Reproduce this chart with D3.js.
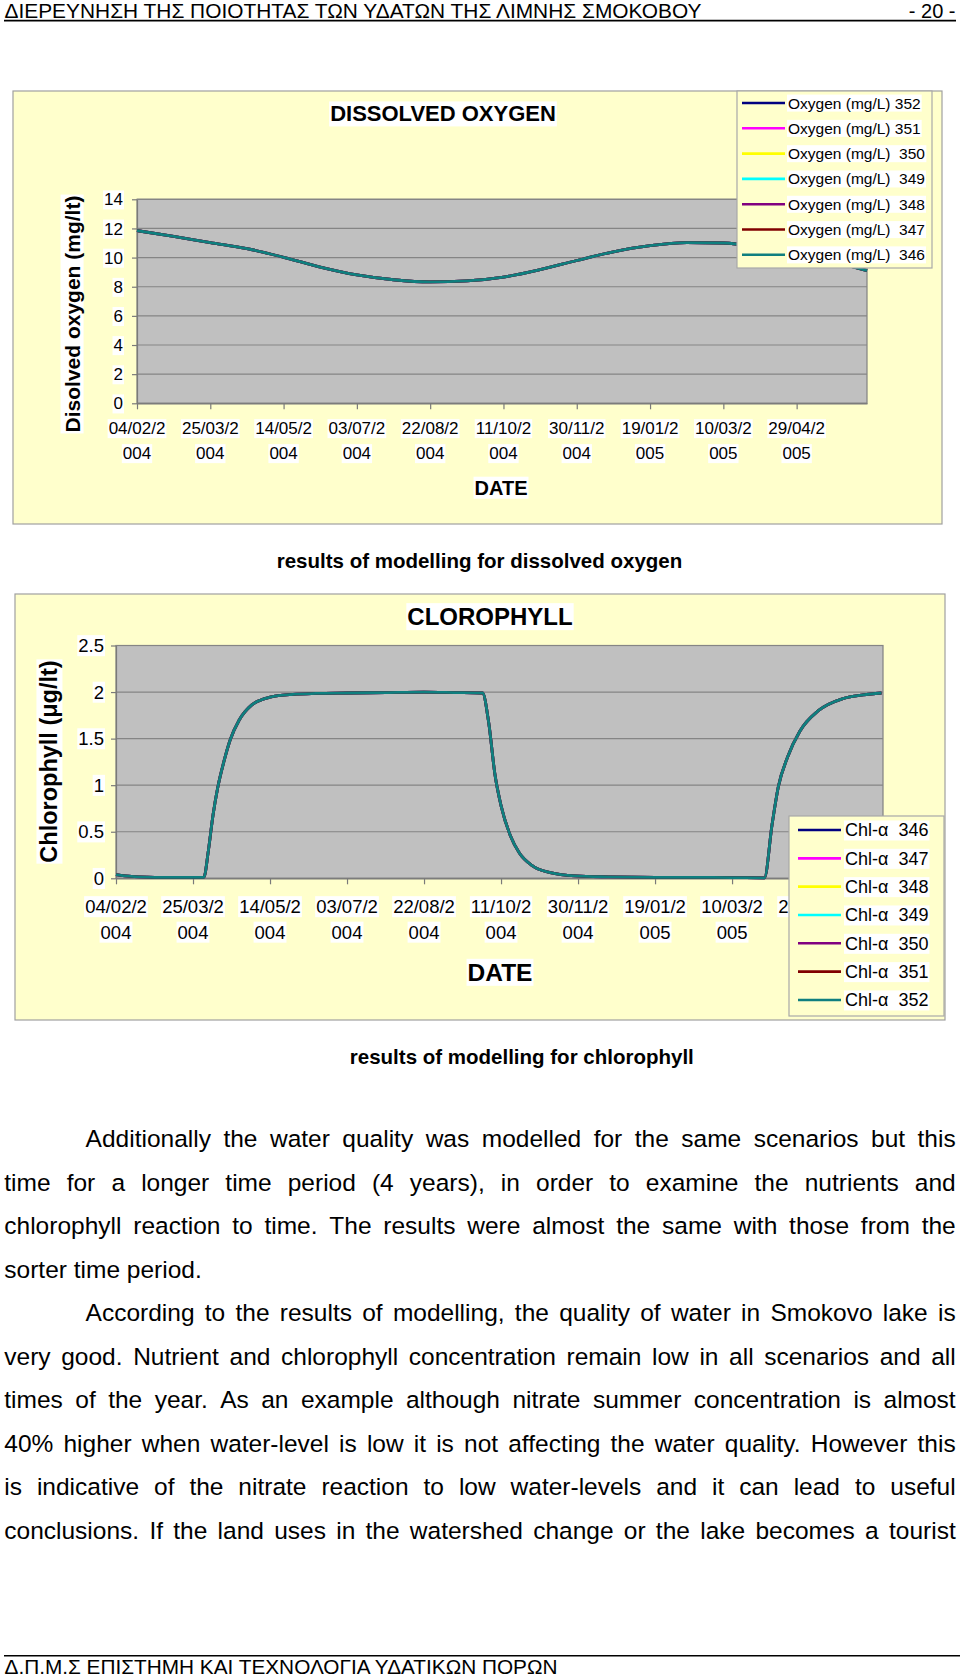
<!DOCTYPE html>
<html><head><meta charset="utf-8">
<script src="https://cdn.jsdelivr.net/npm/d3@7"></script>
<style>
body{margin:0;background:#fff}
svg{display:block}
text{font-family:"Liberation Sans",Arial,Helvetica,sans-serif;white-space:pre}
</style>
</head><body>
<svg id="page" width="960" height="1678"></svg>
<script>
// ---------------- DATA ----------------
const tickDays = [0, 50, 100, 150, 200, 250, 300, 350, 400, 450];
const tickLabels = ["04/02/2004","25/03/2004","14/05/2004","03/07/2004","22/08/2004",
                    "11/10/2004","30/11/2004","19/01/2005","10/03/2005","29/04/2005"];
const lastDay = 498;

const oxygenDays   = [0, 25, 50, 75, 100, 125, 150, 175, 200, 225, 250, 275, 300, 325, 350, 375, 400, 425, 450, 475, 498];
const oxygenValues = [11.85, 11.45, 11.03, 10.62, 10.02, 9.35, 8.81, 8.48, 8.33, 8.40, 8.66, 9.17, 9.80, 10.40, 10.82, 11.03, 11.00, 10.70, 10.25, 9.70, 9.10];
const oxygenSeries = ["Oxygen (mg/L) 352","Oxygen (mg/L) 351","Oxygen (mg/L)  350","Oxygen (mg/L)  349",
                      "Oxygen (mg/L)  348","Oxygen (mg/L)  347","Oxygen (mg/L)  346"];
const oxygenTicks = [0, 2, 4, 6, 8, 10, 12, 14];

const chlDays   = [0, 10, 20, 30, 45, 57, 60, 63, 66, 70, 74, 80, 88, 100, 115, 130, 150, 175, 200, 220, 238,
                   242, 246, 250, 256, 262, 270, 282, 298, 320, 350, 380, 400, 421, 426, 430, 436, 444, 456, 472, 485, 497];
const chlValues = [0.04, 0.02, 0.012, 0.01, 0.01, 0.01, 0.30, 0.68, 0.97, 1.25, 1.48, 1.70, 1.86, 1.945, 1.975, 1.985, 1.99, 1.995, 2.0, 1.995, 1.99,
                   1.67, 1.12, 0.78, 0.46, 0.27, 0.14, 0.06, 0.025, 0.015, 0.01, 0.01, 0.008, 0.005, 0.58, 0.98, 1.30, 1.58, 1.80, 1.93, 1.97, 1.99];
const chlSeries = ["Chl-\u03b1  346","Chl-\u03b1  347","Chl-\u03b1  348","Chl-\u03b1  349","Chl-\u03b1  350","Chl-\u03b1  351","Chl-\u03b1  352"];
const chlTicks = [0, 0.5, 1, 1.5, 2, 2.5];

const headerText = "\u0394\u0399\u0395\u03a1\u0395\u03a5\u039d\u0397\u03a3\u0397 \u03a4\u0397\u03a3 \u03a0\u039f\u0399\u039f\u03a4\u0397\u03a4\u0391\u03a3 \u03a4\u03a9\u039d \u03a5\u0394\u0391\u03a4\u03a9\u039d \u03a4\u0397\u03a3 \u039b\u0399\u039c\u039d\u0397\u03a3 \u03a3\u039c\u039f\u039a\u039f\u0392\u039f\u03a5";
const footerText = "\u0394.\u03a0.\u039c.\u03a3 \u0395\u03a0\u0399\u03a3\u03a4\u0397\u039c\u0397 \u039a\u0391\u0399 \u03a4\u0395\u03a7\u039d\u039f\u039b\u039f\u0393\u0399\u0391 \u03a5\u0394\u0391\u03a4\u0399\u039a\u03a9\u039d \u03a0\u039f\u03a1\u03a9\u039d";
const bodyLines = [
  "Additionally the water quality was modelled for the same scenarios but this",
  "time for a longer time period (4 years), in order to examine the nutrients and",
  "chlorophyll reaction to time. The results were almost the same with those from the",
  "sorter time period.",
  "According to the results of modelling, the quality of water in Smokovo lake is",
  "very good. Nutrient and chlorophyll concentration remain low in all scenarios and all",
  "times of the year. As an example although nitrate summer concentration is almost",
  "40% higher when water-level is low it is not affecting the water quality. However this",
  "is indicative of the nitrate reaction to low water-levels and it can lead to useful",
  "conclusions. If the land uses in the watershed change or the lake becomes a tourist"
];
const bodyIndent = [true,false,false,false,true,false,false,false,false,false];
const bodyJustify = [true,true,true,false,true,true,true,true,true,true];

// ---------------- DRAWING ----------------
const seriesColors = ["#000080","#ff00ff","#ffff00","#00ffff","#800080","#800000","#0f7f7f"];
const svg = d3.select("#page");

function label(g, x, y, str, o) {
  o = o || {};
  const t = g.append("text")
    .attr("x", x).attr("y", y)
    .attr("dy", "0.36em")
    .attr("text-anchor", o.anchor || "middle")
    .attr("font-size", o.size || 16)
    .attr("font-weight", o.bold ? "bold" : "normal")
    .attr("fill", "#000")
    .text(str);
  if (o.rotate) t.attr("transform", `rotate(${o.rotate},${x},${y})`);
  if (o.bg !== false) {
    const bb = t.node().getBBox();
    const r = g.insert("rect", () => t.node())
      .attr("x", bb.x - 1).attr("y", bb.y).attr("width", bb.width + 2).attr("height", bb.height)
      .attr("fill", "#fff");
    if (o.rotate) r.attr("transform", `rotate(${o.rotate},${x},${y})`);
  }
  return t;
}

function drawChart(c) {
  const g = svg.append("g");
  g.append("rect").attr("x", c.box[0]).attr("y", c.box[1]).attr("width", c.box[2]).attr("height", c.box[3])
    .attr("fill", "#ffffcc").attr("stroke", "#a0a0a0").attr("stroke-width", 1.2);

  const x = d3.scaleLinear().domain([0, lastDay]).range([c.plot[0], c.plot[1]]);
  const y = d3.scaleLinear().domain([0, c.yMax]).range([c.plot[3], c.plot[2]]);

  g.append("rect").attr("x", c.plot[0]).attr("y", c.plot[2])
    .attr("width", c.plot[1] - c.plot[0]).attr("height", c.plot[3] - c.plot[2])
    .attr("fill", "#c0c0c0").attr("stroke", "#808080").attr("stroke-width", 1.2);

  g.append("g").selectAll("line").data(c.yTicks).join("line")
    .attr("x1", c.plot[0]).attr("x2", c.plot[1])
    .attr("y1", d => y(d)).attr("y2", d => y(d))
    .attr("stroke", "#858585").attr("stroke-width", 1.2);

  const xa = g.append("g").attr("transform", `translate(0,${c.plot[3]})`)
    .call(d3.axisBottom(x).tickValues(tickDays).tickSize(6).tickSizeOuter(0).tickFormat(""));
  const ya = g.append("g").attr("transform", `translate(${c.plot[0]},0)`)
    .call(d3.axisLeft(y).tickValues(c.yTicks).tickSize(5).tickSizeOuter(0).tickFormat(""));
  [xa, ya].forEach(a => { a.selectAll("path,line").attr("stroke", "#7a7a7a").attr("stroke-width", 1.2); });

  // series lines
  const line = d3.line().x(d => x(d[0])).y(d => y(d[1])).curve(d3.curveMonotoneX);
  const pts = c.days.map((d, i) => [d, c.values[i]]);
  c.series.forEach((s, i) => {
    g.append("path").datum(pts).attr("d", line).attr("fill", "none")
      .attr("stroke", c.colors[i]).attr("stroke-width", 2.8).attr("stroke-linejoin", "round");
  });

  // y tick labels
  c.yTicks.forEach(v => label(g, c.yLabelRight, y(v), String(v), {anchor: "end", size: c.tickSize}));
  // x tick labels (wrapped like the source)
  tickDays.forEach((d, i) => {
    const s = tickLabels[i];
    label(g, x(d), c.xl1, s.slice(0, 7), {size: c.tickSize});
    label(g, x(d), c.xl2, s.slice(7), {size: c.tickSize});
  });

  label(g, c.title[0], c.title[1], c.title[2], {size: c.title[3], bold: true});
  label(g, c.yTitle[0], c.yTitle[1], c.yTitle[2], {size: c.yTitle[3], bold: true, rotate: -90});
  label(g, c.xTitle[0], c.xTitle[1], "DATE", {size: c.xTitle[3], bold: true});

  // legend
  const L = c.legend;
  g.append("rect").attr("x", L.x).attr("y", L.y).attr("width", L.w).attr("height", L.h)
    .attr("fill", "#ffffcc").attr("stroke", "#a8a8a8").attr("stroke-width", 1.2);
  c.series.forEach((s, i) => {
    const yy = L.y0 + i * L.step;
    g.append("line").attr("x1", L.lx0).attr("x2", L.lx1).attr("y1", yy).attr("y2", yy)
      .attr("stroke", c.colors[i]).attr("stroke-width", 2.6);
    label(g, L.tx, yy, s, {anchor: "start", size: L.size});
  });
}

drawChart({
  box: [13, 91, 929, 433],
  plot: [137, 867, 199.3, 403.3],
  yMax: 14, yTicks: oxygenTicks,
  days: oxygenDays, values: oxygenValues, series: oxygenSeries, colors: seriesColors,
  tickSize: 17, yLabelRight: 123, xl1: 428, xl2: 453,
  title: [443, 113.5, "DISSOLVED OXYGEN", 22],
  yTitle: [72, 314, "Disolved oxygen (mg/lt)", 21],
  xTitle: [501, 487.5, "DATE", 20],
  legend: {x: 737, y: 91, w: 195, h: 177, y0: 103, step: 25.3, lx0: 742, lx1: 785, tx: 788, size: 15.5}
});

drawChart({
  box: [15, 594, 930, 426],
  plot: [116, 883, 645.5, 878.3],
  yMax: 2.5, yTicks: chlTicks,
  days: chlDays, values: chlValues, series: chlSeries, colors: seriesColors,
  tickSize: 18.5, yLabelRight: 104, xl1: 906.5, xl2: 932,
  title: [490, 616.5, "CLOROPHYLL", 24],
  yTitle: [49, 761.5, "Chlorophyll (\u03bcg/lt)", 23.5],
  xTitle: [500, 972, "DATE", 24.5],
  legend: {x: 789, y: 816, w: 155, h: 200, y0: 830, step: 28.33, lx0: 798, lx1: 841, tx: 845, size: 18}
});

// captions
label(svg, 479.5, 561, "results of modelling for dissolved oxygen", {size: 20.5, bold: true, bg: false});
label(svg, 521.8, 1056.3, "results of modelling for chlorophyll", {size: 20.5, bold: true, bg: false});

// header
svg.append("text").attr("x", 4.5).attr("y", 18.2).attr("font-size", 20)
  .attr("textLength", 697).attr("lengthAdjust", "spacingAndGlyphs").text(headerText);
svg.append("text").attr("x", 955.5).attr("y", 18.2).attr("font-size", 20).attr("text-anchor", "end").text("- 20 -");
svg.append("line").attr("x1", 4).attr("x2", 956).attr("y1", 20.6).attr("y2", 20.6).attr("stroke", "#000").attr("stroke-width", 1.6);

// footer
svg.append("line").attr("x1", 4).attr("x2", 960).attr("y1", 1655.8).attr("y2", 1655.8).attr("stroke", "#000").attr("stroke-width", 1.6);
svg.append("text").attr("x", 4.5).attr("y", 1673.5).attr("font-size", 19.5)
  .attr("textLength", 553).attr("lengthAdjust", "spacingAndGlyphs").text(footerText);

// body text, justified
const bodySize = 24.5, left = 4.3, right = 955.7, base0 = 1147.3, lineStep = 43.52, indent = 81.3;
const meas = svg.append("text").attr("font-size", bodySize).attr("x", -1000).attr("y", -1000);
function wordW(w) { meas.text(w); return meas.node().getComputedTextLength(); }
const spaceW = (() => { meas.text("a a"); const a = meas.node().getComputedTextLength(); meas.text("aa"); return a - meas.node().getComputedTextLength(); })();
bodyLines.forEach((ln, i) => {
  const words = ln.split(" ");
  const widths = words.map(wordW);
  const x0 = left + (bodyIndent[i] ? indent : 0);
  const total = d3.sum(widths);
  const gap = bodyJustify[i] && words.length > 1 ? (right - x0 - total) / (words.length - 1) : spaceW;
  const t = svg.append("text").attr("y", base0 + i * lineStep).attr("font-size", bodySize);
  let cx = x0;
  words.forEach((w, k) => {
    t.append("tspan").attr("x", cx).text(w);
    cx += widths[k] + gap;
  });
});
meas.remove();
</script>
</body></html>
